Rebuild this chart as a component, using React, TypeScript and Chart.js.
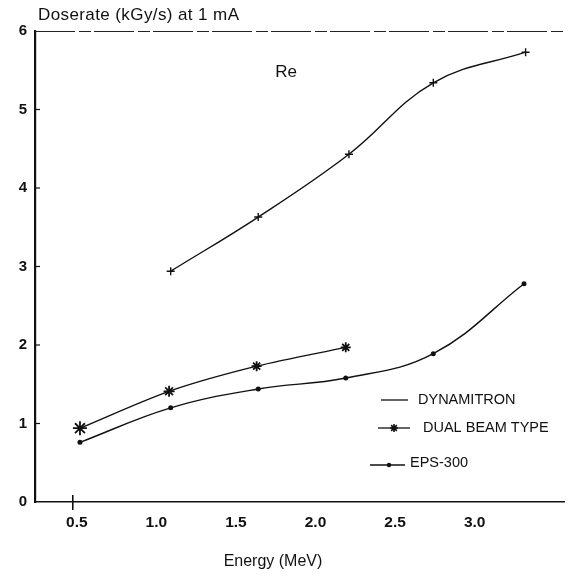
import React, { useEffect, useRef } from "react";
import { Chart, registerables } from "chart.js";

Chart.register(...registerables);

// ---- data ----
const dynamitronX = [1.09, 1.64, 2.21, 2.74, 3.32];
const dynamitronY = [2.94, 3.63, 4.43, 5.34, 5.73];

const dualBeamX = [0.52, 1.08, 1.63, 2.19];
const dualBeamY = [0.94, 1.41, 1.73, 1.97];

const eps300X = [0.52, 1.09, 1.64, 2.19, 2.74, 3.31];
const eps300Y = [0.76, 1.2, 1.44, 1.58, 1.89, 2.78];

const xTickValues = [0.5, 1.0, 1.5, 2.0, 2.5, 3.0];
const xTickLabels = ["0.5", "1.0", "1.5", "2.0", "2.5", "3.0"];
const yTickValues = [0, 1, 2, 3, 4, 5, 6];

const seriesNames = ["DYNAMITRON", "DUAL BEAM TYPE", "EPS-300"];
const yAxisTitle = "Doserate (kGy/s) at 1 mA";
const xAxisTitle = "Energy (MeV)";
const annotationText = "Re";

const FONT = '"Liberation Sans", Arial, Helvetica, sans-serif';
const INK = "#111";

const pts = (xs: number[], ys: number[]) => xs.map((x, i) => ({ x, y: ys[i] }));

const annotPlugin = {
  id: "annot",
  afterDraw(chart: any) {
    const ctx = chart.ctx;
    const { left, right, top, bottom } = chart.chartArea;
    const xs = chart.scales.x;
    const ys = chart.scales.y;
    ctx.save();
    ctx.fillStyle = INK;
    ctx.strokeStyle = INK;

    // top frame line (broken in scan)
    ctx.lineWidth = 1.2;
    ctx.strokeStyle = "#222";
    ctx.setLineDash([40, 4, 12, 3]);
    ctx.beginPath();
    ctx.moveTo(left, top + 0.5);
    ctx.lineTo(right, top + 0.5);
    ctx.stroke();
    ctx.setLineDash([]);
    ctx.strokeStyle = INK;

    // inward y tick marks
    ctx.lineWidth = 1.2;
    yTickValues.slice(1, -1).forEach((v) => {
      const y = ys.getPixelForValue(v);
      ctx.beginPath();
      ctx.moveTo(left, y);
      ctx.lineTo(left + 5, y);
      ctx.stroke();
    });
    // single x tick at first label
    {
      const x = xs.getPixelForValue(xTickValues[0]) - 4;
      ctx.lineWidth = 1.6;
      ctx.beginPath();
      ctx.moveTo(x, bottom - 7);
      ctx.lineTo(x, bottom + 8);
      ctx.stroke();
    }

    // y-axis title at top-left
    ctx.font = `17px ${FONT}`;
    (ctx as any).letterSpacing = "0.4px";
    ctx.textAlign = "left";
    ctx.textBaseline = "middle";
    ctx.fillText(yAxisTitle, 38, 15);
    (ctx as any).letterSpacing = "0px";

    // "Re"
    ctx.font = `17px ${FONT}`;
    ctx.textAlign = "center";
    ctx.fillText(annotationText, 286, 72);

    // x-axis title
    ctx.font = `16px ${FONT}`;
    ctx.fillText(xAxisTitle, 273, 562);

    // legend
    ctx.font = `14.5px ${FONT}`;
    ctx.textAlign = "left";
    ctx.lineWidth = 1.3;
    // DYNAMITRON
    ctx.beginPath();
    ctx.moveTo(381, 400);
    ctx.lineTo(408, 400);
    ctx.stroke();
    ctx.fillText(seriesNames[0], 418, 400);
    // DUAL BEAM TYPE
    ctx.beginPath();
    ctx.moveTo(378, 428);
    ctx.lineTo(410, 428);
    ctx.stroke();
    {
      const cx = 394, cy = 428, r = 4;
      ctx.lineWidth = 1.6;
      ctx.beginPath();
      for (let a = 0; a < 4; a++) {
        const ang = (a * Math.PI) / 4;
        ctx.moveTo(cx - r * Math.cos(ang), cy - r * Math.sin(ang));
        ctx.lineTo(cx + r * Math.cos(ang), cy + r * Math.sin(ang));
      }
      ctx.stroke();
    }
    ctx.fillText(seriesNames[1], 423, 428);
    // EPS-300
    ctx.lineWidth = 1.3;
    ctx.beginPath();
    ctx.moveTo(370, 465);
    ctx.lineTo(405, 465);
    ctx.stroke();
    ctx.beginPath();
    ctx.arc(389, 465, 2.2, 0, Math.PI * 2);
    ctx.fill();
    ctx.fillText(seriesNames[2], 410, 463);

    ctx.restore();
  },
};

export default function App() {
  const ref = useRef<HTMLCanvasElement | null>(null);
  useEffect(() => {
    if (!ref.current) return;
    const chart = new Chart(ref.current, {
      type: "line",
      data: {
        datasets: [
          {
            label: seriesNames[0],
            data: pts(dynamitronX, dynamitronY),
            borderColor: INK,
            backgroundColor: INK,
            borderWidth: 1.4,
            pointStyle: "cross",
            pointRadius: 4,
            pointBorderWidth: 1.4,
            tension: 0.4,
            fill: false,
          },
          {
            label: seriesNames[1],
            data: pts(dualBeamX, dualBeamY),
            borderColor: INK,
            backgroundColor: INK,
            borderWidth: 1.4,
            pointStyle: "star",
            pointRadius: [7, 5.5, 5, 5],
            pointBorderWidth: 1.8,
            tension: 0.3,
            fill: false,
          },
          {
            label: seriesNames[2],
            data: pts(eps300X, eps300Y),
            borderColor: INK,
            backgroundColor: INK,
            borderWidth: 1.4,
            pointStyle: "circle",
            pointRadius: 2.5,
            pointBorderWidth: 0,
            tension: 0.4,
            fill: false,
          },
        ],
      },
      options: {
        responsive: false,
        animation: false,
        layout: { padding: { top: 31, right: 6, left: 0, bottom: 0 } },
        plugins: {
          legend: { display: false },
          tooltip: { enabled: false },
          title: { display: false },
        },
        scales: {
          x: {
            type: "linear",
            min: 0.2375,
            max: 3.5625,
            afterBuildTicks: (scale: any) => {
              scale.ticks = xTickValues.map((v) => ({ value: v }));
            },
            afterFit: (scale: any) => {
              scale.height = 76;
            },
            grid: { display: false, drawTicks: false },
            border: { display: true, color: INK, width: 1.6 },
            ticks: {
              color: INK,
              padding: 11,
              maxRotation: 0,
              autoSkip: false,
              font: { family: FONT, size: 15.5, weight: "bold" },
              callback: (v: any) => {
                const i = xTickValues.indexOf(Number(v));
                return i >= 0 ? xTickLabels[i] : "";
              },
            },
          },
          y: {
            type: "linear",
            min: 0,
            max: 6,
            afterBuildTicks: (scale: any) => {
              scale.ticks = yTickValues.map((v) => ({ value: v }));
            },
            afterFit: (scale: any) => {
              scale.width = 35;
            },
            grid: { display: false, drawTicks: false },
            border: { display: true, color: INK, width: 2.2 },
            ticks: {
              color: INK,
              padding: 8,
              font: { family: FONT, size: 15, weight: "bold" },
            },
          },
        },
      },
      plugins: [annotPlugin],
    } as any);
    return () => chart.destroy();
  }, []);
  return (
    <div style={{ position: "fixed", left: 0, top: 0, width: 573, height: 578, background: "#fff" }}>
      <canvas ref={ref} width={573} height={578} style={{ display: "block" }} />
    </div>
  );
}
